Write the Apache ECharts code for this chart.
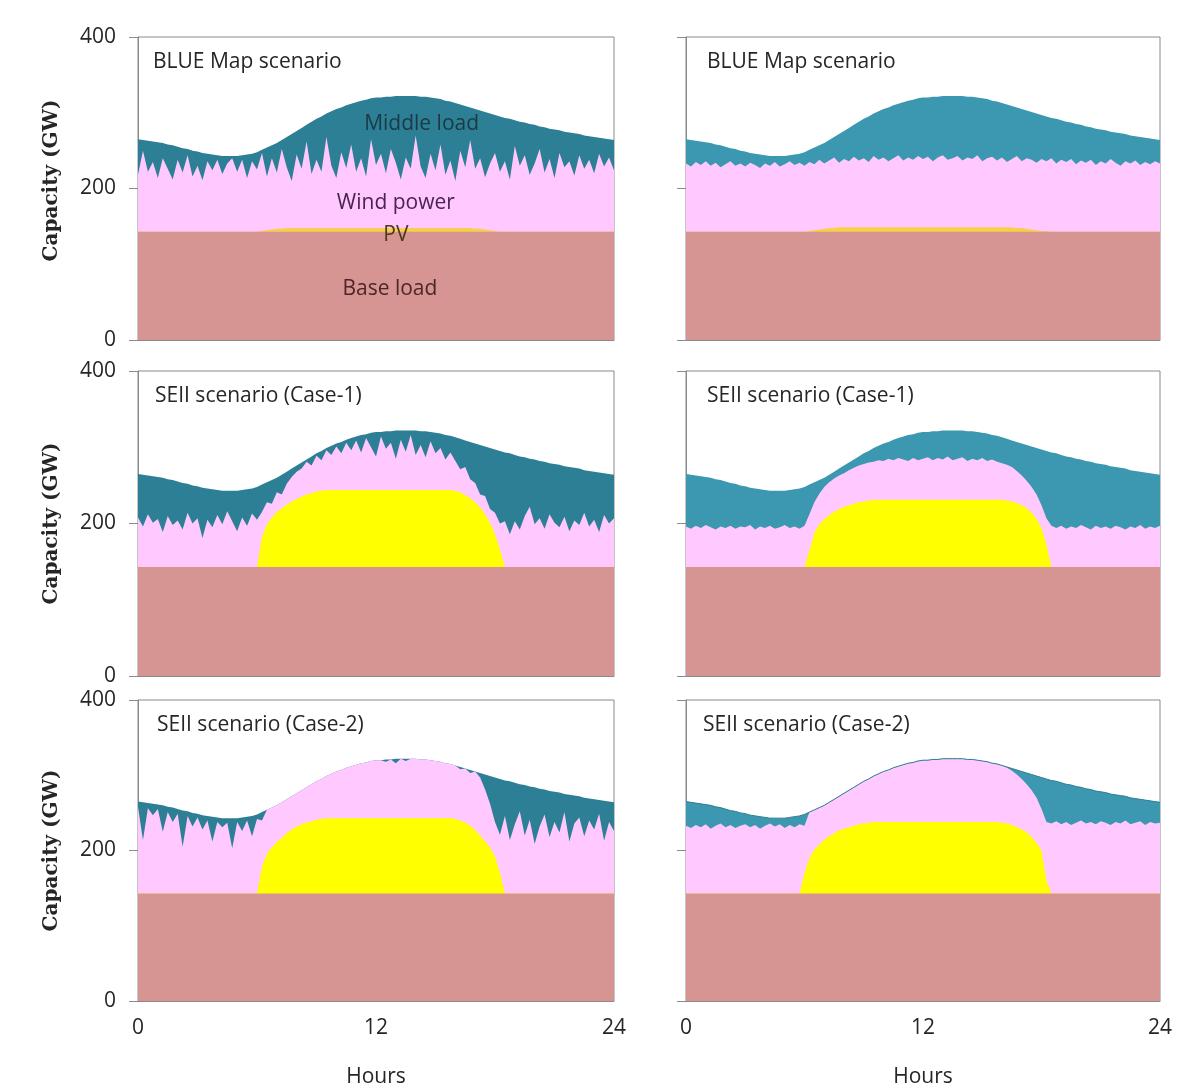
<!DOCTYPE html>
<html><head><meta charset="utf-8">
<script src="https://cdn.jsdelivr.net/npm/echarts@6/dist/echarts.min.js"></script>
<style>html,body{margin:0;padding:0;background:#fff}#c{width:1193px;height:1089px}</style>
</head><body><div id="c"></div>
<script>
// ---------------- DATA ----------------
// x: hour of day, sampled every quarter hour (0 .. 24)
const hours = Array.from({length: 97}, (_, i) => i * 0.25);
const xTicks = [0, 12, 24];
const yTicks = [0, 200, 400];
const panelTitles = ['BLUE Map scenario', 'BLUE Map scenario',
  'SEII scenario (Case-1)', 'SEII scenario (Case-1)',
  'SEII scenario (Case-2)', 'SEII scenario (Case-2)'];
const layerNames = ['Middle load', 'Wind power', 'PV', 'Base load'];

// Base load (GW), flat all day
const baseLoad = 143;

// Total demand = top of the middle-load layer (GW), same in all panels
const demand = [265,264,263,262, 261,260,258,257, 255,253,252,250, 249,247,246,245,
  244,243,243,243, 243,244,245,246, 248,251,254,257, 260,264,268,272,
  276,280,284,288, 292,295,299,302, 305,307,310,312, 314,316,317,319,
  320,320,321,321, 322,322,322,322, 322,321,321,320, 319,318,316,315,
  313,311,309,307, 305,303,301,299, 297,295,293,292, 290,288,287,285,
  284,282,281,279, 278,277,275,274, 273,272,270,269, 268,267,266,265, 264];

// Top of the wind-power layer (GW)
const windTopBlueL = [218,250,222,235, 214,240,226,212, 238,221,244,216, 230,211,236,224,
  238,219,233,240, 222,238,214,236, 225,247,216,240, 221,252,228,210,
  245,226,262,219, 238,222,268,230, 214,248,227,258, 222,240,216,265,
  231,246,220,252, 234,212,241,226, 270,229,214,246, 224,258,218,237,
  210,250,228,264, 226,240,215,233, 247,222,236,212, 256,230,244,218,
  233,252,221,239, 214,247,228,236, 217,244,226,238, 220,246,229,241, 224];
const windTopBlueR = [233,229,235,231,236,230,234,228,232,236,230,233,229,234,231,227,233,230,235,229,232,236,231,234,230,
  235,232,238,233,237,241,234,239,236,242,237,240,235,243,238,241,236,240,244,237,241,238,243,239,
  242,236,241,244,238,240,243,237,241,239,244,236,240,242,237,241,235,239,243,236,240,238,234,239,
  236,240,233,238,235,239,232,237,234,238,231,236,233,239,234,230,236,233,237,231,235,232,236,233];
const windTopCase1L = [208,196,212,201,206,189,210,198,204,192,214,200,207,181,205,195,211,199,216,203,190,208,197,213,205,
  215,228,226,241,238,252,261,268,272,281,276,289,283,296,290,
  301,292,306,296,309,293,312,300, 288,314,298,306,285,310,294,316,
  290,303,287,308,292,299,284,293, 282,271,274,258,253,238,236,219,
  214,200,203,186,203,192,210,222, 199,207,193,212,201,195,209,190,
  204,198,214,196,205,189,211,200,207];
const windTopCase1R = [196,193,197,194,198,195,192,196,194,197,193,196,195,198,192,196,194,197,193,195,198,194,196,193,197,
  212,228,239,248,254, 259,263,266,270,273, 276,278,280,281,283, 282,285,283,286,284,
  282,286,283,285,287, 283,286,284,288,283, 285,287,282,285,283, 286,282,284,281,279,
  277,274,269,263,256, 248,238,224,207,197, 194,197,
  193,196,194,198,195,192,197,194,196,193,197,195,192,196,194,198,193,196,194,197];
const windTopCase2L = [258,214,256,247, 255,225,251,238, 249,205,246,232, 244,228,240,212,
  238,231,237,203, 238,226,240,219, 242,240,254,257, 260,264,268,272,
  276,280,284,288, 292,295,299,302, 305,307,310,312, 314,316,317,319,
  320,320,318,321, 316,322,319,322, 322,321,321,320, 319,318,316,315,
  313,308,309,303, 305,297,281,262, 238,221,246,214, 235,252,220,241,
  209,232,248,218, 238,224,251,212, 236,244,219,240, 228,249,213,238, 226];
const windTopCase2R = [233,230,234,231,235,229,233,236,231,234,230,233,235,231,234,229,233,236,232,235,230,234,231,235,233,
  251,254,257,260,264,268,272,276,280,284,288,292,295,299,302,305,307,310,312,314,
  316,317,319,320,320,321,321,322,322,322,322,322,321,321,320,319,318,316,315,313,
  310,306,301,295,288,280,270,255,238,
  236,239,235,238,234,237,240,236,238,235,239,237,234,238,236,240,235,237,239,234,238,236,237];

// Top of the PV layer (GW) = base load + PV output
const pvTopBlueL = [143,143,143,143,143, 143,143,143,143,143, 143,143,143,143,143, 143,143,143,143,143, 143,143,143,143,143,
  144,145,146,147,147,148,
  148,148,148,148,148, 148,148,148,148,148, 148,148,148,148,148, 148,148,148,148,148,
  148,148,148,148,148, 148,148,148,148,148, 148,148,148,148,148, 148,
  148,147,147,146,145,144,
  143,143,143,143, 143,143,143,143, 143,143,143,143, 143,143,143,143, 143,143,143,143, 143,143,143,143];
const pvTopBlueR = [143,143,143,143,143, 143,143,143,143,143, 143,143,143,143,143, 143,143,143,143,143, 143,143,143,143,143,
  144,145,146,147,148,148,
  149,149,149,149,149, 149,149,149,149,149, 149,149,149,149,149, 149,149,149,149,149,
  149,149,149,149,149, 149,149,149,149,149, 149,149,149,149,149, 149,
  148,148,147,146,145,144,144,143,
  143,143,143,143,143,143,143,143,143,143,143, 143,143,143,143,143,143,143,143,143,143,143];
const pvTopCase1L = [143,143,143,143,143, 143,143,143,143,143, 143,143,143,143,143, 143,143,143,143,143, 143,143,143,143,143,
  182,199,208,215,220,225,229,232,235,238,240,242,243,244,
  244,244,244,244,244, 244,244,244,244,244, 244,244,244,244,244, 244,244,244,244,244, 244,244,244,244,244,
  243,241,237,233,228,221,212,201,186,166,143,
  143,143,143,143,143,143,143,143,143,143,143, 143,143,143,143,143,143,143,143,143,143,143];
const pvTopCase1R = [143,143,143,143,143, 143,143,143,143,143, 143,143,143,143,143, 143,143,143,143,143, 143,143,143,143,143,
  165,188,199,206,211,215,219,222,224,226,228,229,230,231,
  231,231,231,231,231, 231,231,231,231,231, 231,231,231,231,231, 231,231,231,231,231, 231,231,231,231,231,
  231,230,229,227,224,220,214,206,194,172,143,
  143,143,143,143,143,143,143,143,143,143,143, 143,143,143,143,143,143,143,143,143,143,143];
const pvTopCase2L = [143,143,143,143,143, 143,143,143,143,143, 143,143,143,143,143, 143,143,143,143,143, 143,143,143,143,143,
  178,196,204,211,217,223,228,232,235,237,239,241,242,243,
  243,243,243,243,243, 243,243,243,243,243, 243,243,243,243,243, 243,243,243,243,243, 243,243,243,243,243,
  242,240,237,233,227,220,212,204,192,170,143,
  143,143,143,143,143,143,143,143,143,143,143, 143,143,143,143,143,143,143,143,143,143,143];
const pvTopCase2R = [143,143,143,143,143, 143,143,143,143,143, 143,143,143,143,143, 143,143,143,143,143, 143,143,143,143,
  170,190,201,208,214,219,223,227,229,231,233,235,236,237,238,
  238,238,238,238,238, 238,238,238,238,238, 238,238,238,238,238, 238,238,238,238,238, 238,238,238,238,238,
  237,236,234,231,228,224,218,210,200,160,143,
  143,143,143,143,143,143,143,143,143,143,143, 143,143,143,143,143,143,143,143,143,143,143];

// ---------------- STYLE ----------------
const C = {
  base: '#D69593', wind: '#FFC8FE', pv: '#FFFF00', pvThin: '#F7D04A',
  tealL: '#2C7F95', tealR: '#3C98B0', frame: '#8A8A8A', text: '#262626'
};
const SANS = "'Open Sans', 'Noto Sans', sans-serif";
const FS = 21;
const colLeft = [138, 686], colWidth = [476, 474];
const rowTop = [37, 371, 700], rowHeight = [303, 305, 301];

const panels = [
  {wind: windTopBlueL, pv: pvTopBlueL, teal: C.tealL, pvColor: C.pvThin},
  {wind: windTopBlueR, pv: pvTopBlueR, teal: C.tealR, pvColor: C.pvThin},
  {wind: windTopCase1L, pv: pvTopCase1L, teal: C.tealL, pvColor: C.pv},
  {wind: windTopCase1R, pv: pvTopCase1R, teal: C.tealR, pvColor: C.pv},
  {wind: windTopCase2L, pv: pvTopCase2L, teal: C.tealL, pvColor: C.pv},
  {wind: windTopCase2R, pv: pvTopCase2R, teal: C.tealR, pvColor: C.pv, edge: true}
];
[demand].concat(panels.map(p => p.wind), panels.map(p => p.pv)).forEach((a, i) => {
  if (a.length !== hours.length) throw new Error('array ' + i + ' has length ' + a.length);
});

const grid = [], xAxis = [], yAxis = [], series = [], title = [];
const titleOffsetX = [[15, 21], [17, 21], [19, 17]], titleOffsetY = 15;
const yNamePad = [[0, 0, 0, 16], 0, 0];
panels.forEach((p, i) => {
  const col = i % 2, row = Math.floor(i / 2);
  grid.push({left: colLeft[col], top: rowTop[row], width: colWidth[col], height: rowHeight[row],
    show: true, borderColor: C.frame, borderWidth: 1, backgroundColor: '#fff'});
  xAxis.push({type: 'value', gridIndex: i, min: xTicks[0], max: xTicks[2], interval: xTicks[1] - xTicks[0],
    axisLine: {show: true, lineStyle: {color: C.frame}}, axisTick: {show: false}, splitLine: {show: false},
    axisLabel: {show: row === 2, fontSize: FS, color: C.text, fontFamily: SANS, margin: 17},
    name: row === 2 ? 'Hours' : '', nameLocation: 'middle', nameGap: 66,
    nameTextStyle: {fontSize: FS, color: C.text, fontFamily: SANS}});
  yAxis.push({type: 'value', gridIndex: i, min: yTicks[0], max: yTicks[2], interval: yTicks[1] - yTicks[0],
    axisLine: {show: true, lineStyle: {color: C.frame}},
    axisTick: {show: true, length: 9, lineStyle: {color: C.frame}}, splitLine: {show: false},
    axisLabel: {show: col === 0, fontSize: FS, color: C.text, fontFamily: SANS, margin: 22},
    name: col === 0 ? 'Capacity (GW)' : '', nameLocation: 'middle', nameRotate: 90, nameGap: 76,
    nameTextStyle: {fontSize: 20, fontWeight: 'bold', color: C.text, fontFamily: "'DejaVu Serif', serif",
      padding: yNamePad[row]}});
  title.push({text: panelTitles[i], left: colLeft[col] + titleOffsetX[row][col], top: rowTop[row] + titleOffsetY, padding: 0,
    textStyle: {fontSize: FS, fontWeight: 'normal', color: C.text, fontFamily: SANS}});
  const area = (name, vals, color, z) => ({
    name, type: 'line', xAxisIndex: i, yAxisIndex: i, z,
    data: hours.map((h, k) => [h, vals[k]]), symbol: 'none', silent: true,
    lineStyle: {width: 0, opacity: 0}, areaStyle: {color, opacity: 1, origin: 'start'}
  });
  series.push(area(layerNames[0], demand, p.teal, 2));
  series.push(area(layerNames[1], p.wind, C.wind, 3));
  series.push(area(layerNames[2], p.pv, p.pvColor, 4));
  series.push(area(layerNames[3], hours.map(() => baseLoad), C.base, 5));
  if (p.edge) {
    series.push({type: 'line', xAxisIndex: i, yAxisIndex: i, z: 6, symbol: 'none', silent: true,
      data: hours.map((h, k) => [h, demand[k]]), lineStyle: {width: 1, color: '#2E7D92'}});
  }
});

const chart = echarts.init(document.getElementById('c'), null, {renderer: 'canvas'});
chart.setOption({animation: false, backgroundColor: '#fff', title, grid, xAxis, yAxis, series});

// Layer labels in the first panel, anchored in data coordinates [hour, GW]
const labelSpots = [
  {text: layerNames[0], at: [14.3, 285], color: '#1B3A44'},
  {text: layerNames[1], at: [13.0, 181], color: '#4A2450'},
  {text: layerNames[2], at: [13.0, 139], color: '#4A3A1C'},
  {text: layerNames[3], at: [12.7, 67], color: '#4C2626'}
];
chart.setOption({graphic: labelSpots.map(l => {
  const [x, y] = chart.convertToPixel({gridIndex: 0}, l.at);
  return {type: 'text', x, y, z: 100, silent: true,
    style: {text: l.text, fill: l.color, font: FS + "px 'Open Sans', sans-serif", textAlign: 'center', textVerticalAlign: 'middle'}};
})});
</script>
</body></html>
